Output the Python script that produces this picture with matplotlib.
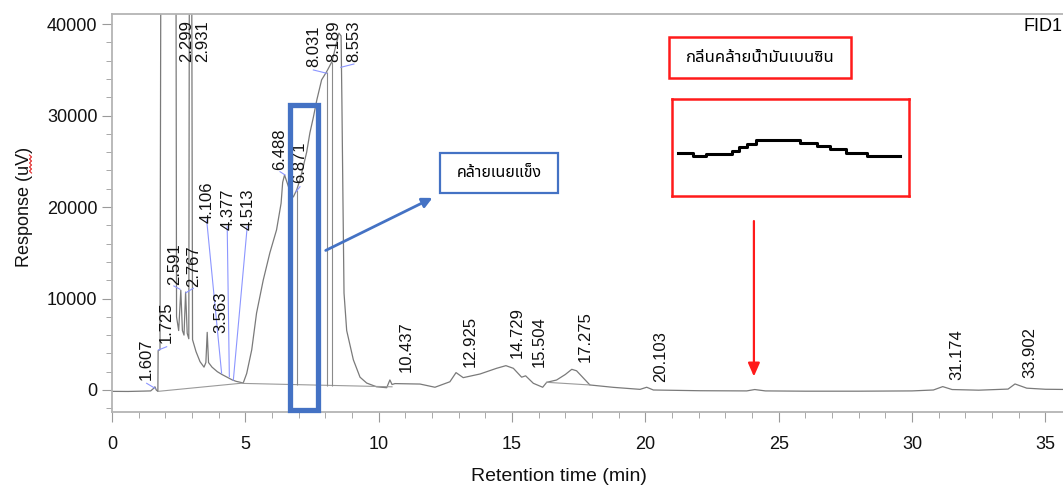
import numpy as np
import matplotlib
matplotlib.use('Agg')
import matplotlib.pyplot as plt
from matplotlib.patches import Rectangle
from matplotlib.lines import Line2D
from matplotlib.ticker import MultipleLocator
from matplotlib import font_manager
from matplotlib.ft2font import FT2Font

# chromatogram trace (min, uV); off-scale peaks are clipped by the axis
trace_time = [0.00, 0.60, 1.20, 1.45, 1.55, 1.61, 1.66, 1.70, 1.72, 1.73, 1.80, 1.83,
              2.40, 2.42, 2.50, 2.58, 2.64, 2.70, 2.76, 2.82, 2.88, 2.90, 2.99, 3.02,
              3.15, 3.30, 3.45, 3.52, 3.57, 3.62, 3.75, 3.95, 4.12, 4.38, 4.51, 4.65,
              4.80, 4.92, 5.05, 5.24, 5.42, 5.67, 5.92, 6.17, 6.34, 6.40, 6.47, 6.55,
              6.70, 6.80, 6.93, 7.05, 7.17, 7.30, 7.42, 7.55, 7.68, 7.86, 8.05, 8.25,
              8.40, 8.51, 8.59, 8.62, 8.66, 8.70, 8.80, 9.05, 9.30, 9.55, 9.92, 10.30,
              10.42, 10.50, 10.61, 11.55, 12.11, 12.67, 12.90, 13.17, 13.80, 14.42, 14.77, 15.05,
              15.36, 15.51, 15.80, 16.15, 16.30, 16.67, 17.00, 17.24, 17.42, 17.92, 18.80, 19.80,
              20.05, 20.30, 22.05, 23.80, 24.10, 24.50, 26.00, 28.00, 30.00, 30.80, 31.15, 31.50,
              32.50, 33.60, 33.86, 34.30, 35.00, 35.70]
trace_resp = [-150, -160, -120, -100, 150, 350, 0, -100, -150, 4300, 4400, 45000,
              45000, 8000, 6500, 10900, 6500, 6000, 10700, 6200, 5600, 45000, 45000, 5500,
              4200, 3100, 2500, 3000, 6300, 3000, 2500, 2000, 1700, 1300, 1100, 950,
              850, 760, 1800, 4400, 8400, 12000, 15000, 17500, 20400, 22700, 23500, 22800,
              21500, 21100, 21900, 23000, 24400, 26000, 28100, 29800, 31700, 33900, 34800, 35900,
              37700, 39000, 38700, 31700, 20800, 10600, 6500, 3300, 1400, 760, 350, 250,
              1100, 600, 700, 650, 300, 900, 1900, 1350, 1750, 2370, 2660, 2370,
              1400, 1550, 730, 300, 840, 1090, 1700, 2260, 2100, 550, 290, 70,
              300, 0, -80, -100, 50, -100, -130, -130, -100, 0, 370, 50,
              -20, 100, 660, 200, 80, 60]

# integration baselines (start time, start resp, end time, end resp)
base_t0 = [1.72, 4.92, 16.30]
base_r0 = [-150, 720, 840]
base_t1 = [4.92, 10.50, 17.92]
base_r1 = [760, 350, 550]

# drop lines
drop_time = [6.92, 8.05, 8.26]
drop_top = [21900, 34800, 35900]
drop_bottom = [600, 450, 440]

# peak labels: text, label x, label bottom y
peak_names = ['1.607', '1.725', '2.591', '2.767', '2.299', '2.931', '3.563', '4.106',
              '4.377', '4.513', '6.488', '6.871', '8.031', '8.189', '8.553', '10.437',
              '12.925', '14.729', '15.504', '17.275', '20.103', '31.174', '33.902']
label_t = [1.30, 2.05, 2.36, 3.05, 2.80, 3.38, 4.08, 3.57,
           4.36, 5.11, 6.30, 7.05, 7.55, 8.30, 9.07, 11.02,
           13.45, 15.20, 16.02, 17.74, 20.57, 31.67, 34.42]
label_r = [1090, 5140, 11480, 11260, 35850, 35850, 6230, 18250,
           17490, 17490, 24050, 22630, 35300, 35850, 35850, 2000,
           2550, 3460, 2550, 3090, 900, 1090, 1280]

# leader lines from label to peak
lead_t0 = [1.30, 1.74, 2.32, 2.77, 3.55, 4.32, 5.07, 6.30, 7.05, 7.55, 9.07]
lead_r0 = [730, 4370, 11370, 10630, 18580, 17850, 17850, 23860, 22220, 34980, 35630]
lead_t1 = [1.61, 2.05, 2.55, 3.05, 4.11, 4.40, 4.55, 6.49, 6.90, 8.05, 8.58]
lead_r1 = [190, 4730, 11010, 11120, 1830, 1450, 1090, 23500, 21670, 34620, 35270]

# zoomed view of the small bump near 24 min (stepped trace)
inset_time = [23.50, 23.58, 23.65, 23.79, 23.83, 23.87, 23.92, 24.16, 24.25, 24.32, 24.41, 24.52, 24.70]
inset_resp = [20, 4, 16, 36, 56, 76, 98, 80, 64, 46, 20, 4, 4]


def find_thai_font():
    names = []
    for f in font_manager.fontManager.ttflist:
        try:
            cmap = FT2Font(f.fname).get_charmap()
        except Exception:
            continue
        if 0x0E04 in cmap and 0x0E49 in cmap:
            names.append(f.name)
    for pref in ['Noto Sans Thai', 'Noto Sans Thai Looped', 'Tahoma', 'Loma', 'Garuda']:
        if pref in names:
            return pref
    return names[0] if names else 'DejaVu Sans'


def main():
    plt.rcParams['font.family'] = ['Liberation Sans', 'DejaVu Sans']
    thai = find_thai_font()

    fig = plt.figure(figsize=(10.63, 4.86), dpi=100)
    ax = fig.add_axes([112/1063, 1-412/486, 951/1063, 398/486])

    ax.plot(trace_time, trace_resp, color='#7a7a7a', lw=0.9)
    for t0, r0, t1, r1 in zip(base_t0, base_r0, base_t1, base_r1):
        ax.plot([t0, t1], [r0, r1], color='#9a9a9a', lw=0.8)
    ax.vlines(drop_time, drop_bottom, drop_top, color='#8a8a8a', lw=0.8)
    for t0, r0, t1, r1 in zip(lead_t0, lead_r0, lead_t1, lead_r1):
        ax.plot([t0, t1], [r0, r1], color='#8c96ff', lw=0.8)
    for name, t, r in zip(peak_names, label_t, label_r):
        ax.text(t, r, name, rotation=90, ha='center', va='bottom', fontsize=12, color='#111111')

    ax.set_xlim(0, 35.66)
    ax.set_ylim(-2405, 41097)
    ax.xaxis.set_major_locator(MultipleLocator(5))
    ax.xaxis.set_minor_locator(MultipleLocator(1))
    ax.yaxis.set_major_locator(MultipleLocator(10000))
    ax.yaxis.set_minor_locator(MultipleLocator(2000))
    ax.tick_params(which='major', length=7, color='#9a9a9a', labelsize=13, labelcolor='#111111')
    ax.tick_params(which='minor', length=4, color='#9a9a9a')
    ax.tick_params(axis='x', pad=10)
    ax.spines['right'].set_visible(False)
    for s in ['left', 'top', 'bottom']:
        ax.spines[s].set_color('#b4b4b4')
        ax.spines[s].set_linewidth(1.3)

    ax.set_xlabel('Retention time (min)', fontsize=14, color='#111111')
    ax.xaxis.set_label_coords(0.47, -0.14)
    ax.set_ylabel('Response (uV)', fontsize=13, color='#111111')
    ax.yaxis.set_label_coords(-0.083, 0.515)
    ax.text(0.999, 0.99, 'FID1', transform=ax.transAxes, ha='right', va='top', fontsize=13)

    # spell-check squiggle under "uV" in the axis title (screenshot artefact)
    sq_y = np.arange(155, 174, 2.0)
    sq_x = np.where(np.arange(len(sq_y)) % 2 == 0, 29.5, 31.5)
    fig.add_artist(Line2D(sq_x / 1063, 1 - sq_y / 486, transform=fig.transFigure,
                          color='#e02020', lw=0.8))

    # blue highlight box and its note
    blue = '#4472c4'
    ax.add_patch(Rectangle((6.66, -2190), 1.06, 33340, fill=False, ec=blue, lw=3.8, clip_on=False, zorder=5))
    ax.annotate('', xy=(12.11, 21130), xytext=(7.92, 15120),
                arrowprops=dict(arrowstyle='-|>,head_length=0.6,head_width=0.3', color=blue, lw=2))
    ax.add_patch(Rectangle((12.30, 21500), 4.43, 4440, fill=False, ec=blue, lw=1.6))
    ax.text(14.51, 23720, 'คล้ายเนยแข็ง', ha='center', va='center', fontsize=11.5,
            family=[thai, 'DejaVu Sans'])

    # red note, zoom box and arrow
    red = '#ff1a1a'
    ax.add_patch(Rectangle((20.90, 34060), 6.80, 4490, fill=False, ec=red, lw=1.8))
    ax.text(24.30, 36300, 'กลิ่นคล้ายน้ำมันเบนซิน', ha='center', va='center', fontsize=12,
            family=[thai, 'DejaVu Sans'])
    ax.annotate('', xy=(24.07, 1170), xytext=(24.07, 18770),
                arrowprops=dict(arrowstyle='-|>,head_length=0.8,head_width=0.35', color=red, lw=1.6))

    ins = ax.inset_axes([20.99, 21200, 8.90, 10570], transform=ax.transData)
    ins.step(inset_time, inset_resp, where='post', color='black', lw=2.2)
    ins.set_xlim(23.464, 24.750)
    ins.set_ylim(-236, 344)
    ins.set_xticks([])
    ins.set_yticks([])
    for s in ins.spines.values():
        s.set_color(red)
        s.set_linewidth(1.8)

    fig.savefig('out.png', dpi=100)


if __name__ == "__main__":
    main()
